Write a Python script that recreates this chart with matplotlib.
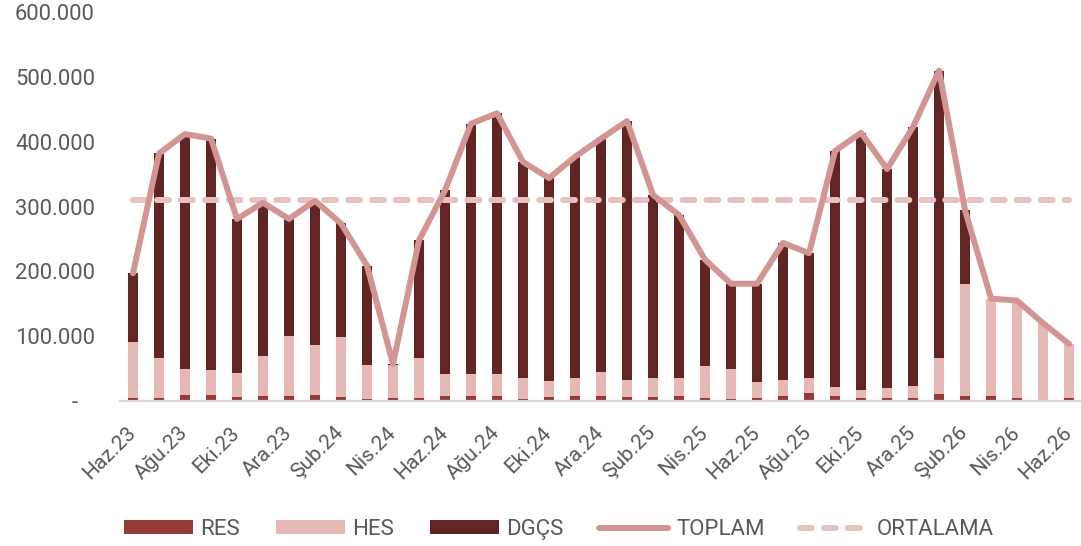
import matplotlib
matplotlib.use("Agg")
import matplotlib.pyplot as plt
import numpy as np
from matplotlib.ticker import FuncFormatter, FixedLocator
from matplotlib.patches import Patch
from matplotlib.lines import Line2D

plt.rcParams['font.family'] = ['Roboto', 'DejaVu Sans']

months = ["Haz.23", "Tem.23", "Ağu.23", "Eyl.23", "Eki.23", "Kas.23", "Ara.23",
          "Oca.24", "Şub.24", "Mar.24", "Nis.24", "May.24", "Haz.24", "Tem.24",
          "Ağu.24", "Eyl.24", "Eki.24", "Kas.24", "Ara.24", "Oca.25", "Şub.25",
          "Mar.25", "Nis.25", "May.25", "Haz.25", "Tem.25", "Ağu.25", "Eyl.25",
          "Eki.25", "Kas.25", "Ara.25", "Oca.26", "Şub.26", "Mar.26", "Nis.26",
          "May.26", "Haz.26"]

RES = [5, 5, 10, 10, 6, 7, 7, 10, 6, 3, 5, 5,
       8, 8, 8, 3, 6, 8, 8, 6, 6, 7, 5, 3,
       4, 8, 13, 8, 4, 4, 4, 11, 7, 8, 4, 2, 5]
HES = [86, 61, 39, 38, 37, 63, 93, 76, 92, 53, 50, 61,
       34, 34, 34, 33, 25, 28, 36, 26, 29, 29, 49, 47,
       26, 24, 23, 14, 13, 16, 19, 55, 173, 150, 151, 118, 83]
DGCS = [106, 316, 363, 357, 238, 236, 181, 223, 176, 153, 2, 182,
        283, 386, 402, 333, 313, 341, 361, 400, 283, 251, 164, 131,
        151, 212, 192, 364, 397, 338, 400, 444, 114, 0, 0, 0, 0]
ORTALAMA = 310

RES = np.array(RES) * 1000
HES = np.array(HES) * 1000
DGCS = np.array(DGCS) * 1000
TOPLAM = RES + HES + DGCS

c_res = "#943A37"
c_hes = "#E6B8B7"
c_dgcs = "#632424"
c_top = "#D39594"
c_ort = "#E6C1C0"
c_txt = "#595959"

fig = plt.figure(figsize=(10.81, 5.46), dpi=100)
ax = fig.add_axes([0.111, 0.2656, 0.89, 0.712])

x = np.arange(len(months))
w = 0.4
ax.bar(x, RES, w, color=c_res, zorder=2)
ax.bar(x, HES, w, bottom=RES, color=c_hes, zorder=2)
ax.bar(x, DGCS, w, bottom=RES + HES, color=c_dgcs, zorder=2)
ax.plot(x, TOPLAM, color=c_top, lw=4.3, solid_joinstyle='round',
        solid_capstyle='round', zorder=4)
ax.plot([x[0], x[-1]], [ORTALAMA * 1000] * 2, color=c_ort, lw=4.3,
        linestyle=(0, (2, 2)), dash_capstyle='round', zorder=3)

ax.set_xlim(-0.5, len(months) - 0.5)
ax.set_ylim(0, 600000)
ax.yaxis.set_major_locator(FixedLocator(np.arange(0, 600001, 100000)))

def yfmt(v, pos):
    if v == 0:
        return "-   "
    return f"{int(v):,}".replace(",", ".")

ax.yaxis.set_major_formatter(FuncFormatter(yfmt))
ax.set_xticks(x[::2])
ax.set_xticklabels([])

for s in ['top', 'right', 'left']:
    ax.spines[s].set_visible(False)
ax.spines['bottom'].set_color("#D9D9D9")
ax.spines['bottom'].set_linewidth(1.6)
ax.tick_params(axis='y', length=0, labelsize=15.8, colors=c_txt, pad=18)
ax.tick_params(axis='x', length=0)

# rotated month labels under every second bar
px = 72 / 100.0
for xi in x[::2]:
    ax.annotate(months[xi], xy=(xi, 0), xycoords=('data', 'axes fraction'),
                xytext=(-7 * px, -22 * px), textcoords='offset points',
                rotation=45, ha='right', va='top', rotation_mode='anchor',
                fontsize=15, color=c_txt, annotation_clip=False)

handles = [Patch(facecolor=c_res), Patch(facecolor=c_hes), Patch(facecolor=c_dgcs),
           Line2D([0], [0], color=c_top, lw=4.3, solid_capstyle='round'),
           Line2D([0], [0], color=c_ort, lw=4.3, linestyle=(0, (2, 2)),
                  dash_capstyle='round')]
labels = ["RES", "HES", "DGÇS", "TOPLAM", "ORTALAMA"]
leg = fig.legend(handles, labels, loc='center', bbox_to_anchor=(0.517, 0.03),
                 ncol=5, frameon=False, fontsize=16, handlelength=3.1,
                 handleheight=0.6, handletextpad=0.35, columnspacing=1.6)
for t in leg.get_texts():
    t.set_color(c_txt)

fig.savefig("out.png", dpi=100)
